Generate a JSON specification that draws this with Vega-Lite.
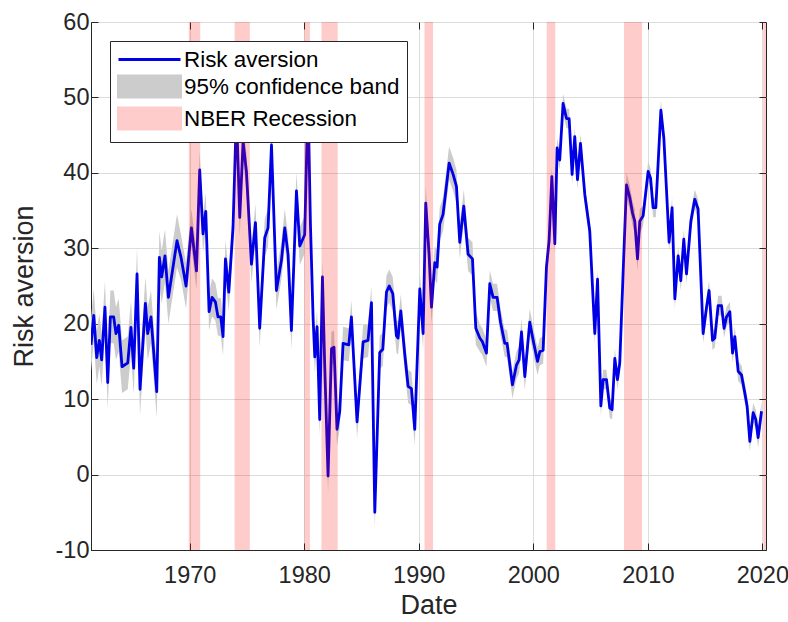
{
"$schema":"https://vega.github.io/schema/vega-lite/v6.json",
"width":675,"height":528,
"autosize":{"type":"none"},
"padding":{"left":91,"top":22,"right":22,"bottom":72},
"background":"white",
"config":{"font":"Liberation Sans","view":{"stroke":"#262626","strokeWidth":1}},
"datasets":{
"ra":[
{"d":1961.38,"v":17.2,"lo":13.7,"hi":20.7},
{"d":1961.62,"v":21.1,"lo":17.6,"hi":24.6},
{"d":1961.88,"v":15.5,"lo":12.0,"hi":19.0},
{"d":1962.11,"v":17.8,"lo":14.3,"hi":21.3},
{"d":1962.31,"v":15.2,"lo":11.7,"hi":18.7},
{"d":1962.60,"v":22.2,"lo":18.7,"hi":25.7},
{"d":1962.84,"v":12.2,"lo":8.7,"hi":15.7},
{"d":1963.07,"v":20.9,"lo":17.4,"hi":24.4},
{"d":1963.36,"v":20.9,"lo":17.4,"hi":24.4},
{"d":1963.56,"v":18.7,"lo":15.2,"hi":22.2},
{"d":1963.80,"v":19.8,"lo":16.3,"hi":23.3},
{"d":1964.09,"v":14.3,"lo":10.8,"hi":17.8},
{"d":1964.59,"v":14.8,"lo":11.3,"hi":18.3},
{"d":1964.87,"v":19.5,"lo":16.0,"hi":23.0},
{"d":1965.11,"v":14.1,"lo":10.6,"hi":17.6},
{"d":1965.40,"v":26.6,"lo":23.1,"hi":30.1},
{"d":1965.66,"v":11.3,"lo":7.8,"hi":14.8},
{"d":1966.13,"v":22.7,"lo":19.2,"hi":26.2},
{"d":1966.33,"v":18.7,"lo":15.2,"hi":22.2},
{"d":1966.62,"v":20.9,"lo":17.4,"hi":24.4},
{"d":1967.12,"v":11.0,"lo":7.5,"hi":14.5},
{"d":1967.35,"v":28.8,"lo":25.3,"hi":32.3},
{"d":1967.55,"v":26.2,"lo":22.7,"hi":29.7},
{"d":1967.84,"v":29.0,"lo":25.5,"hi":32.5},
{"d":1968.14,"v":23.5,"lo":20.0,"hi":27.0},
{"d":1968.89,"v":31.0,"lo":27.5,"hi":34.5},
{"d":1969.24,"v":28.8,"lo":25.8,"hi":31.8},
{"d":1969.68,"v":25.0,"lo":22.0,"hi":28.0},
{"d":1970.15,"v":32.7,"lo":30.2,"hi":35.2},
{"d":1970.59,"v":27.0,"lo":24.5,"hi":29.5},
{"d":1970.87,"v":40.4,"lo":37.9,"hi":42.9},
{"d":1971.16,"v":31.9,"lo":29.4,"hi":34.4},
{"d":1971.40,"v":34.9,"lo":32.4,"hi":37.4},
{"d":1971.69,"v":21.6,"lo":19.1,"hi":24.1},
{"d":1971.95,"v":23.5,"lo":21.0,"hi":26.0},
{"d":1972.24,"v":22.9,"lo":20.4,"hi":25.4},
{"d":1972.47,"v":20.9,"lo":18.4,"hi":23.4},
{"d":1972.71,"v":20.9,"lo":18.4,"hi":23.4},
{"d":1972.91,"v":18.3,"lo":15.8,"hi":20.8},
{"d":1973.12,"v":28.6,"lo":26.1,"hi":31.1},
{"d":1973.41,"v":24.2,"lo":21.7,"hi":26.7},
{"d":1973.78,"v":32.7,"lo":30.2,"hi":35.2},
{"d":1974.08,"v":48.0,"lo":45.5,"hi":50.5},
{"d":1974.37,"v":34.1,"lo":31.6,"hi":36.6},
{"d":1974.66,"v":44.1,"lo":41.6,"hi":46.6},
{"d":1974.95,"v":40.2,"lo":37.7,"hi":42.7},
{"d":1975.39,"v":27.9,"lo":25.4,"hi":30.4},
{"d":1975.74,"v":33.4,"lo":30.9,"hi":35.9},
{"d":1976.11,"v":19.4,"lo":16.9,"hi":21.9},
{"d":1976.55,"v":31.4,"lo":28.9,"hi":33.9},
{"d":1976.84,"v":32.7,"lo":30.2,"hi":35.2},
{"d":1977.14,"v":43.7,"lo":41.2,"hi":46.2},
{"d":1977.57,"v":24.4,"lo":21.9,"hi":26.9},
{"d":1978.01,"v":28.4,"lo":25.9,"hi":30.9},
{"d":1978.30,"v":32.7,"lo":30.2,"hi":35.2},
{"d":1978.59,"v":29.2,"lo":26.7,"hi":31.7},
{"d":1978.88,"v":19.1,"lo":16.6,"hi":21.6},
{"d":1979.32,"v":37.6,"lo":35.1,"hi":40.1},
{"d":1979.61,"v":30.3,"lo":27.8,"hi":32.8},
{"d":1980.04,"v":31.8,"lo":29.3,"hi":34.3},
{"d":1980.33,"v":50.0,"lo":47.5,"hi":52.5},
{"d":1980.54,"v":33.2,"lo":31.0,"hi":35.4},
{"d":1980.77,"v":20.9,"lo":18.7,"hi":23.1},
{"d":1980.92,"v":15.6,"lo":13.4,"hi":17.8},
{"d":1981.12,"v":19.6,"lo":17.4,"hi":21.8},
{"d":1981.35,"v":7.3,"lo":5.1,"hi":9.5},
{"d":1981.59,"v":26.2,"lo":24.0,"hi":28.4},
{"d":1981.79,"v":14.3,"lo":12.1,"hi":16.5},
{"d":1982.08,"v":-0.2,"lo":-2.4,"hi":2.0},
{"d":1982.38,"v":16.7,"lo":14.5,"hi":18.9},
{"d":1982.60,"v":16.9,"lo":14.7,"hi":19.1},
{"d":1982.86,"v":6.0,"lo":3.8,"hi":8.2},
{"d":1983.10,"v":8.4,"lo":6.2,"hi":10.6},
{"d":1983.39,"v":17.4,"lo":15.2,"hi":19.6},
{"d":1983.89,"v":17.2,"lo":15.0,"hi":19.4},
{"d":1984.12,"v":20.9,"lo":18.7,"hi":23.1},
{"d":1984.61,"v":7.0,"lo":4.8,"hi":9.2},
{"d":1985.14,"v":17.6,"lo":15.4,"hi":19.8},
{"d":1985.57,"v":17.8,"lo":15.6,"hi":20.0},
{"d":1985.87,"v":22.8,"lo":20.6,"hi":25.0},
{"d":1986.16,"v":-5.0,"lo":-7.2,"hi":-2.8},
{"d":1986.59,"v":16.2,"lo":14.0,"hi":18.4},
{"d":1986.86,"v":16.6,"lo":14.4,"hi":18.8},
{"d":1987.18,"v":24.2,"lo":22.0,"hi":26.4},
{"d":1987.42,"v":25.0,"lo":22.8,"hi":27.2},
{"d":1987.73,"v":24.0,"lo":21.8,"hi":26.2},
{"d":1988.05,"v":18.4,"lo":16.2,"hi":20.6},
{"d":1988.19,"v":18.1,"lo":15.9,"hi":20.3},
{"d":1988.43,"v":21.7,"lo":19.5,"hi":23.9},
{"d":1988.78,"v":15.9,"lo":13.7,"hi":18.1},
{"d":1989.07,"v":11.7,"lo":9.5,"hi":13.9},
{"d":1989.36,"v":11.4,"lo":9.2,"hi":13.6},
{"d":1989.65,"v":6.0,"lo":3.8,"hi":8.2},
{"d":1990.09,"v":24.6,"lo":22.4,"hi":26.8},
{"d":1990.38,"v":18.7,"lo":16.5,"hi":20.9},
{"d":1990.61,"v":36.0,"lo":33.8,"hi":38.2},
{"d":1990.90,"v":29.2,"lo":27.0,"hi":31.4},
{"d":1991.11,"v":22.2,"lo":20.0,"hi":24.4},
{"d":1991.40,"v":28.1,"lo":25.9,"hi":30.3},
{"d":1991.60,"v":27.5,"lo":25.3,"hi":29.7},
{"d":1991.83,"v":33.2,"lo":31.0,"hi":35.4},
{"d":1992.12,"v":34.5,"lo":32.3,"hi":36.7},
{"d":1992.65,"v":41.3,"lo":39.1,"hi":43.5},
{"d":1993.00,"v":39.8,"lo":37.6,"hi":42.0},
{"d":1993.29,"v":38.2,"lo":36.0,"hi":40.4},
{"d":1993.58,"v":30.8,"lo":28.6,"hi":33.0},
{"d":1993.93,"v":35.6,"lo":33.4,"hi":37.8},
{"d":1994.31,"v":29.2,"lo":27.0,"hi":31.4},
{"d":1994.69,"v":28.6,"lo":26.4,"hi":30.8},
{"d":1994.98,"v":19.4,"lo":17.2,"hi":21.6},
{"d":1995.33,"v":18.1,"lo":16.3,"hi":19.9},
{"d":1995.56,"v":17.6,"lo":15.8,"hi":19.4},
{"d":1995.91,"v":16.1,"lo":14.3,"hi":17.9},
{"d":1996.20,"v":25.3,"lo":23.5,"hi":27.1},
{"d":1996.49,"v":23.5,"lo":21.7,"hi":25.3},
{"d":1996.84,"v":23.5,"lo":21.7,"hi":25.3},
{"d":1997.14,"v":20.2,"lo":18.4,"hi":22.0},
{"d":1997.51,"v":17.4,"lo":15.6,"hi":19.2},
{"d":1997.71,"v":17.4,"lo":15.6,"hi":19.2},
{"d":1998.18,"v":11.9,"lo":10.1,"hi":13.7},
{"d":1998.53,"v":14.5,"lo":12.7,"hi":16.3},
{"d":1998.76,"v":15.2,"lo":13.4,"hi":17.0},
{"d":1998.97,"v":18.9,"lo":17.1,"hi":20.7},
{"d":1999.26,"v":13.0,"lo":11.2,"hi":14.8},
{"d":1999.69,"v":20.2,"lo":18.4,"hi":22.0},
{"d":2000.04,"v":17.4,"lo":15.6,"hi":19.2},
{"d":2000.37,"v":15.0,"lo":13.2,"hi":16.8},
{"d":2000.57,"v":16.3,"lo":14.5,"hi":18.1},
{"d":2000.86,"v":16.5,"lo":14.7,"hi":18.3},
{"d":2001.15,"v":27.5,"lo":26.2,"hi":28.8},
{"d":2001.38,"v":31.0,"lo":29.7,"hi":32.3},
{"d":2001.62,"v":39.5,"lo":38.2,"hi":40.8},
{"d":2001.88,"v":30.6,"lo":29.3,"hi":31.9},
{"d":2002.08,"v":43.3,"lo":42.0,"hi":44.6},
{"d":2002.31,"v":41.7,"lo":40.4,"hi":43.0},
{"d":2002.60,"v":49.2,"lo":47.9,"hi":50.5},
{"d":2002.90,"v":47.2,"lo":45.9,"hi":48.5},
{"d":2003.13,"v":47.2,"lo":45.9,"hi":48.5},
{"d":2003.39,"v":39.8,"lo":38.5,"hi":41.1},
{"d":2003.62,"v":44.8,"lo":43.5,"hi":46.1},
{"d":2003.86,"v":39.1,"lo":37.8,"hi":40.4},
{"d":2004.12,"v":43.9,"lo":42.6,"hi":45.2},
{"d":2004.50,"v":37.1,"lo":35.8,"hi":38.4},
{"d":2004.93,"v":32.3,"lo":31.0,"hi":33.6},
{"d":2005.37,"v":18.7,"lo":17.4,"hi":20.0},
{"d":2005.61,"v":25.9,"lo":24.6,"hi":27.2},
{"d":2005.90,"v":9.1,"lo":7.8,"hi":10.4},
{"d":2006.10,"v":12.6,"lo":11.3,"hi":13.9},
{"d":2006.39,"v":12.6,"lo":11.3,"hi":13.9},
{"d":2006.68,"v":8.8,"lo":7.5,"hi":10.1},
{"d":2006.88,"v":8.6,"lo":7.3,"hi":9.9},
{"d":2007.12,"v":15.4,"lo":14.1,"hi":16.7},
{"d":2007.35,"v":12.6,"lo":11.3,"hi":13.9},
{"d":2007.55,"v":14.8,"lo":13.5,"hi":16.1},
{"d":2007.84,"v":26.6,"lo":25.3,"hi":27.9},
{"d":2008.14,"v":38.4,"lo":36.8,"hi":40.0},
{"d":2008.43,"v":36.7,"lo":35.1,"hi":38.3},
{"d":2008.66,"v":34.7,"lo":33.1,"hi":36.3},
{"d":2008.86,"v":33.6,"lo":32.0,"hi":35.2},
{"d":2009.10,"v":28.6,"lo":27.0,"hi":30.2},
{"d":2009.30,"v":33.6,"lo":32.0,"hi":35.2},
{"d":2009.59,"v":34.3,"lo":33.0,"hi":35.6},
{"d":2010.03,"v":40.2,"lo":38.9,"hi":41.5},
{"d":2010.24,"v":39.3,"lo":38.0,"hi":40.6},
{"d":2010.46,"v":35.4,"lo":34.1,"hi":36.7},
{"d":2010.70,"v":35.4,"lo":34.1,"hi":36.7},
{"d":2011.14,"v":48.3,"lo":47.0,"hi":49.6},
{"d":2011.40,"v":44.6,"lo":43.3,"hi":45.9},
{"d":2011.63,"v":37.8,"lo":36.5,"hi":39.1},
{"d":2011.86,"v":30.8,"lo":29.5,"hi":32.1},
{"d":2012.12,"v":35.4,"lo":34.1,"hi":36.7},
{"d":2012.36,"v":23.3,"lo":22.0,"hi":24.6},
{"d":2012.65,"v":29.0,"lo":27.7,"hi":30.3},
{"d":2012.88,"v":25.7,"lo":24.4,"hi":27.0},
{"d":2013.14,"v":31.2,"lo":29.9,"hi":32.5},
{"d":2013.38,"v":26.6,"lo":25.3,"hi":27.9},
{"d":2013.76,"v":33.6,"lo":32.3,"hi":34.9},
{"d":2014.10,"v":36.5,"lo":35.2,"hi":37.8},
{"d":2014.39,"v":35.2,"lo":33.9,"hi":36.5},
{"d":2014.83,"v":18.7,"lo":17.4,"hi":20.0},
{"d":2015.13,"v":22.2,"lo":20.9,"hi":23.5},
{"d":2015.35,"v":24.4,"lo":23.1,"hi":25.7},
{"d":2015.65,"v":17.8,"lo":16.5,"hi":19.1},
{"d":2015.85,"v":18.1,"lo":16.8,"hi":19.4},
{"d":2016.14,"v":22.4,"lo":21.1,"hi":23.7},
{"d":2016.44,"v":22.4,"lo":21.1,"hi":23.7},
{"d":2016.66,"v":19.4,"lo":18.1,"hi":20.7},
{"d":2016.87,"v":20.9,"lo":19.6,"hi":22.2},
{"d":2017.16,"v":21.6,"lo":20.3,"hi":22.9},
{"d":2017.40,"v":16.1,"lo":14.8,"hi":17.4},
{"d":2017.60,"v":18.3,"lo":17.0,"hi":19.6},
{"d":2017.89,"v":13.7,"lo":12.4,"hi":15.0},
{"d":2018.18,"v":13.2,"lo":11.9,"hi":14.5},
{"d":2018.47,"v":10.8,"lo":9.5,"hi":12.1},
{"d":2018.67,"v":9.1,"lo":7.8,"hi":10.4},
{"d":2018.91,"v":4.4,"lo":3.1,"hi":5.7},
{"d":2019.20,"v":8.2,"lo":6.9,"hi":9.5},
{"d":2019.43,"v":7.3,"lo":6.0,"hi":8.6},
{"d":2019.63,"v":4.9,"lo":3.6,"hi":6.2},
{"d":2019.93,"v":8.4,"lo":7.1,"hi":9.7}
],
"rec":[
{"s":1969.92,"e":1970.92},
{"s":1973.92,"e":1975.25},
{"s":1980.0,"e":1980.5},
{"s":1981.5,"e":1982.92},
{"s":1990.5,"e":1991.25},
{"s":2001.17,"e":2001.92},
{"s":2007.92,"e":2009.5},
{"s":2020.08,"e":2020.4}
]
},
"resolve":{"axis":{"x":"independent","y":"independent"}},
"layer":[
{"data":{"name":"ra"},
 "mark":{"type":"area","clip":true,"opacity":1},
 "encoding":{
  "x":{"field":"d","type":"quantitative",
   "scale":{"domain":[1961.38,2020.32],"nice":false,"zero":false},
   "axis":{"orient":"bottom","values":[1970,1980,1990,2000,2010,2020],"format":"d","grid":true,"gridColor":"#dcdcdc","tickSize":-7,"tickColor":"#262626","domainColor":"#262626","labelFont":"Liberation Sans","labelFontSize":23.5,"labelColor":"#262626","labelPadding":20,"labelFlush":false,"title":"Date","titleFont":"Liberation Sans","titleFontSize":27,"titleFontWeight":"normal","titleColor":"#262626","titlePadding":6}},
  "y":{"field":"lo","type":"quantitative",
   "scale":{"domain":[-10,60],"nice":false,"zero":false},
   "axis":{"orient":"left","values":[-10,0,10,20,30,40,50,60],"labelExpr":"'' + datum.value","grid":true,"gridColor":"#dcdcdc","tickSize":-7,"tickColor":"#262626","domainColor":"#262626","labelFont":"Liberation Sans","labelFontSize":23.5,"labelColor":"#262626","labelPadding":9,"labelFlush":false,"title":"Risk aversion","titleFont":"Liberation Sans","titleFontSize":27,"titleFontWeight":"normal","titleColor":"#262626","titlePadding":17}},
  "y2":{"field":"hi"},
  "color":{"datum":"95% confidence band","type":"nominal",
   "scale":{"domain":["Risk aversion","95% confidence band","NBER Recession"],"range":["#0000e6","#cccccc","#ffcccc"]},
   "legend":{"title":null,"orient":"none","legendX":19,"legendY":19,"padding":7,"strokeColor":"#262626","fillColor":"white","labelFont":"Liberation Sans","labelFontSize":22.4,"labelColor":"#000000","labelLimit":0,"labelOffset":23,"symbolOffset":21,"rowPadding":-1,"symbolSize":400,"symbolOpacity":1,
    "encode":{"symbols":{"update":{
      "shape":{"signal":"datum.value === 'Risk aversion' ? 'M-3.1,0L3.1,0' : 'M-3.1,-1.05L3.1,-1.05L3.1,1.05L-3.1,1.05Z'"},
      "stroke":{"signal":"datum.value === 'Risk aversion' ? '#0000e6' : 'transparent'"},
      "strokeWidth":{"value":3},
      "opacity":{"value":1}}}}}}
 }},
{"data":{"name":"ra"},
 "mark":{"type":"line","clip":true,"strokeWidth":2.8,"strokeJoin":"round"},
 "encoding":{
  "x":{"field":"d","type":"quantitative","axis":{"orient":"top","values":[1970,1980,1990,2000,2010,2020],"labels":false,"grid":false,"domain":false,"tickSize":-7,"tickColor":"#262626","title":null}},
  "y":{"field":"v","type":"quantitative","axis":{"orient":"right","values":[-10,0,10,20,30,40,50,60],"labels":false,"grid":false,"domain":false,"tickSize":-7,"tickColor":"#262626","title":null}},
  "color":{"datum":"Risk aversion","type":"nominal"}
 }},
{"data":{"name":"rec"},
 "mark":{"type":"rect","clip":true,"fill":"#ff0000","opacity":0.2},
 "encoding":{
  "x":{"field":"s","type":"quantitative","axis":null},
  "x2":{"field":"e"}
 }}
]
}
